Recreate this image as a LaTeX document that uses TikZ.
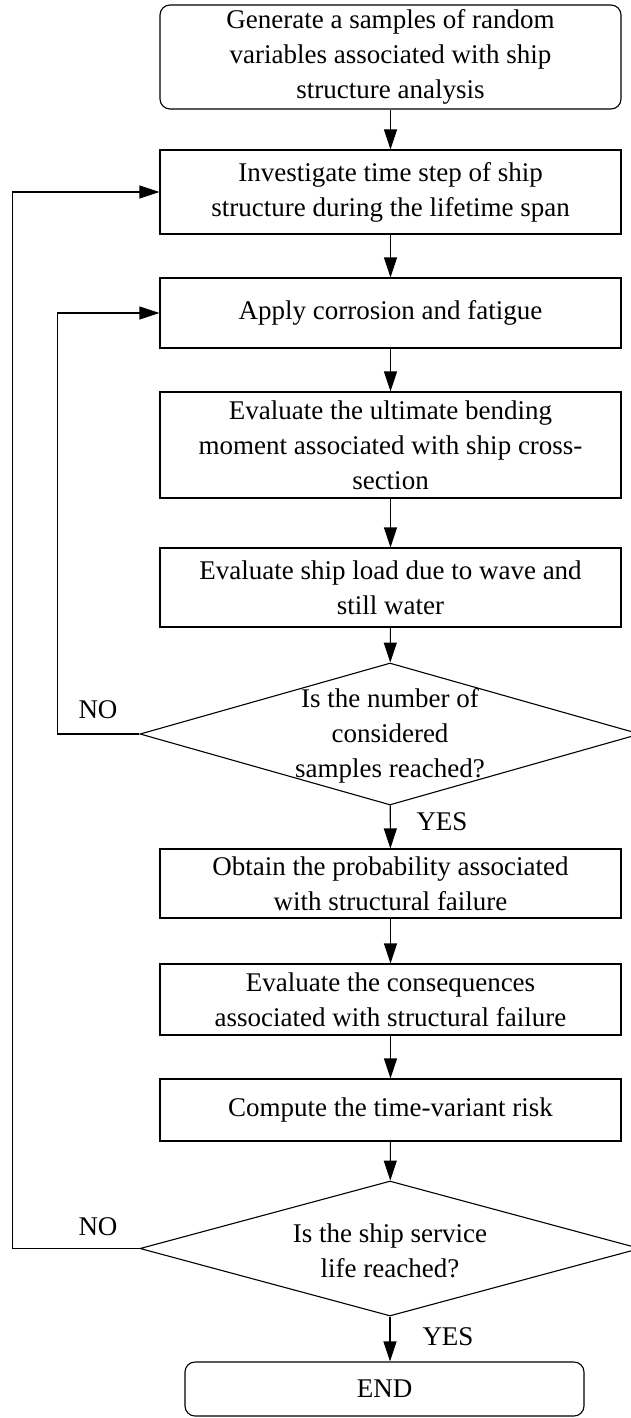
\documentclass[tikz,border=0pt]{standalone}
\usepackage{fontspec}
\setmainfont{Liberation Serif}
\usepackage{tikz}
\usetikzlibrary{shapes.geometric,arrows.meta}

\begin{document}
\begin{tikzpicture}[x=1pt,y=-1pt]
        \tikzstyle{TextStyle}=[align=center, font=\fontsize{27}{35}\selectfont]
        \tikzstyle{BoxStyle}=[TextStyle, draw, line width=1.1pt, rectangle, minimum width=461pt, inner sep=0pt]
        \tikzstyle{TermStyle}=[BoxStyle, rounded corners=10pt]
        \tikzstyle{CondStyle}=[draw, line width=1.1pt, diamond, minimum width=500pt, inner sep=0pt]
        \tikzstyle{EdgeStyle}=[line width=1.1pt, -{Triangle[length=20pt,width=13pt]}]
        \useasboundingbox (0,0) rectangle (630,1418);
        \node[TermStyle, minimum height=104pt] (Gen) at (390.5,57) {Generate a samples of random\\variables associated with ship\\structure analysis};
        \node[BoxStyle, minimum height=84pt] (Step) at (390.5,192) {Investigate time step of ship\\structure during the lifetime span};
        \node[BoxStyle, minimum height=70pt] (Corr) at (390.5,313) {Apply corrosion and fatigue};
        \node[BoxStyle, minimum height=106pt] (Bend) at (390.5,445) {Evaluate the ultimate bending\\moment associated with ship cross-\\section};
        \node[BoxStyle, minimum height=79pt] (Load) at (390.5,587.5) {Evaluate ship load due to wave and\\still water};
        \node[CondStyle, minimum height=142pt] (Samp) at (390,734) {};
        \node[TextStyle] (SampTxt) at (390,736) {Is the number of\\considered\\samples reached?};
        \node[BoxStyle, minimum height=69pt] (Prob) at (390.5,883.5) {Obtain the probability associated\\with structural failure};
        \node[BoxStyle, minimum height=71pt] (Cons) at (390.5,999.5) {Evaluate the consequences\\associated with structural failure};
        \node[BoxStyle, minimum height=62pt] (Risk) at (390.5,1110) {Compute the time-variant risk};
        \node[CondStyle, minimum height=135pt] (Life) at (390,1248.5) {};
        \node[TextStyle] (LifeTxt) at (390,1251) {Is the ship service\\life reached?};
        \node[TermStyle, minimum width=399pt, minimum height=54pt] (End) at (384.5,1389) {END};
        \node[TextStyle] (No1) at (98,710) {NO};
        \node[TextStyle] (Yes1) at (442,822) {YES};
        \node[TextStyle] (No2) at (98,1227) {NO};
        \node[TextStyle] (Yes2) at (448,1337) {YES};
        \draw[EdgeStyle] (Gen) -- (Step);
        \draw[EdgeStyle] (Step) -- (Corr);
        \draw[EdgeStyle] (Corr) -- (Bend);
        \draw[EdgeStyle] (Bend) -- (Load);
        \draw[EdgeStyle] (Load) -- (Samp);
        \draw[EdgeStyle] (Samp) -- (Prob);
        \draw[EdgeStyle] (Prob) -- (Cons);
        \draw[EdgeStyle] (Cons) -- (Risk);
        \draw[EdgeStyle] (Risk) -- (Life);
        \draw[EdgeStyle] (Life.south) -- (Life.south |- End.north);
        \draw[EdgeStyle] (Samp.west) -- ++(-82,0) |- (Corr.west);
        \draw[EdgeStyle] (Life.west) -- ++(-127,0) |- (Step.west);
\end{tikzpicture}
\end{document}
